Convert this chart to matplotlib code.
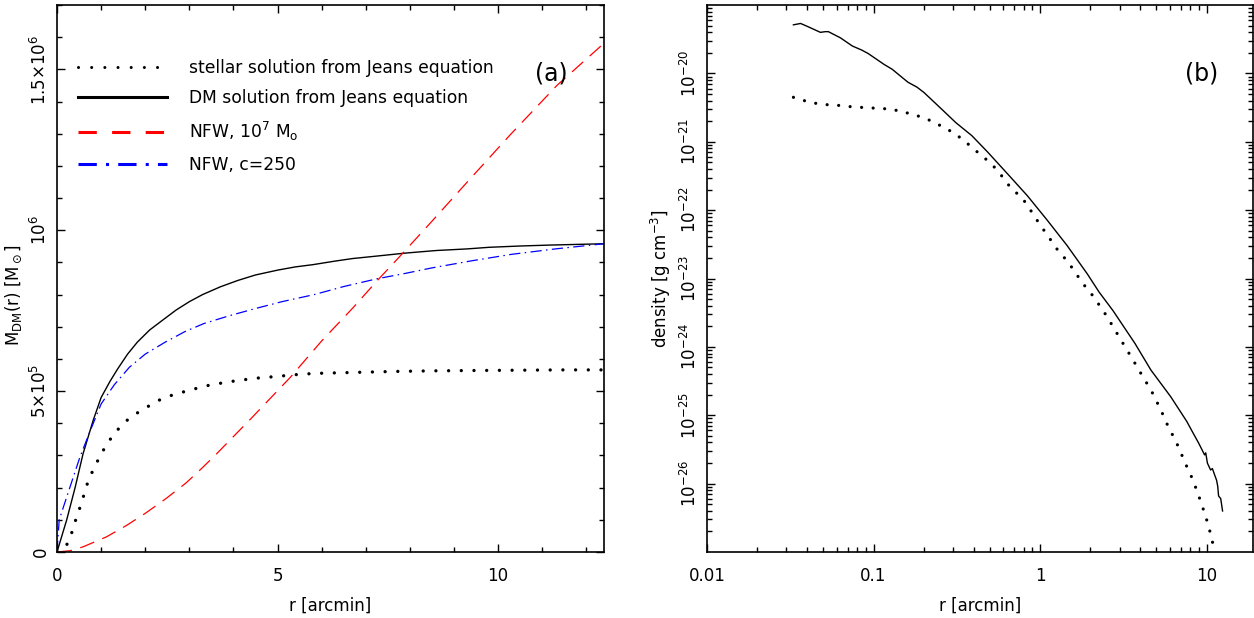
import numpy as np
import matplotlib
matplotlib.use("Agg")
import matplotlib.pyplot as plt
from matplotlib.lines import Line2D
from matplotlib.ticker import FixedLocator, MultipleLocator, LogLocator, NullFormatter

# ------------------------------------------------------------------------
# Data
# ------------------------------------------------------------------------

# panel (a): enclosed mass, r in arcmin, M in units of 1e6 Msun
dm_r = [0, 0.22, 0.41, 0.59, 0.82, 1.0, 1.2, 1.38, 1.6, 1.82, 2.1, 2.36, 2.7,
        3.0, 3.3, 3.7, 4.1, 4.5, 5.0, 5.4, 5.8, 6.3, 6.7, 7.2, 7.9, 8.6, 9.3,
        9.8, 10.5, 11.2, 11.8, 12.4]
dm_m = [0, 0.10, 0.20, 0.305, 0.409, 0.48, 0.53, 0.57, 0.615, 0.652, 0.69,
        0.717, 0.752, 0.778, 0.80, 0.824, 0.844, 0.861, 0.876, 0.886, 0.893,
        0.904, 0.912, 0.919, 0.929, 0.937, 0.942, 0.947, 0.951, 0.954, 0.956,
        0.958]

star_r = [0, 0.22, 0.33, 0.41, 0.5, 0.58, 0.65, 0.74, 0.86, 0.97, 1.1, 1.25,
          1.42, 1.61, 1.83, 2.06, 2.28, 2.6, 3.03, 3.5, 4.05, 4.5, 4.93, 5.4,
          5.83, 6.7, 7.6, 8.5, 9.4, 10.5, 11.5, 12.4]
star_m = [0, 0.022, 0.058, 0.094, 0.13, 0.163, 0.198, 0.232, 0.266, 0.297,
          0.328, 0.359, 0.387, 0.412, 0.433, 0.452, 0.47, 0.487, 0.504, 0.52,
          0.532, 0.54, 0.545, 0.551, 0.555, 0.558, 0.561, 0.563, 0.564, 0.565,
          0.566, 0.566]

nfw7_r = [0, 0.3, 0.59, 1.12, 1.57, 2.02, 2.47, 2.92, 3.22, 3.56, 4.4, 5.29,
          6.0, 6.71, 7.25, 7.78, 8.5, 9.38, 10.27, 11.34, 12.35]
nfw7_m = [0, 0.004, 0.016, 0.047, 0.082, 0.122, 0.166, 0.214, 0.252, 0.297,
          0.415, 0.543, 0.656, 0.759, 0.842, 0.92, 1.028, 1.162, 1.296, 1.451,
          1.575]

nfwc_r = [0, 0.05, 0.29, 0.52, 0.74, 1.0, 1.3, 1.64, 2.0, 2.45, 2.9, 3.33,
          3.9, 4.48, 5.1, 5.83, 6.5, 7.25, 7.9, 8.5, 9.4, 10.3, 11.3, 12.4]
nfwc_m = [0, 0.10, 0.20, 0.295, 0.372, 0.46, 0.52, 0.574, 0.615, 0.652,
          0.685, 0.71, 0.734, 0.756, 0.778, 0.80, 0.825, 0.849, 0.866, 0.883,
          0.905, 0.925, 0.942, 0.958]

# panel (b): density profiles, log10 r [arcmin] and log10 rho [g cm^-3]
dm_logr = [-1.481, -1.438, -1.40, -1.319, -1.29, -1.271, -1.199, -1.127,
           -1.07, -1.032, -0.936, -0.888, -0.793, -0.74, -0.697, -0.601,
           -0.506, -0.410, -0.315, -0.195, -0.076, 0.044, 0.163, 0.283,
           0.355, 0.438, 0.570, 0.666, 0.785, 0.857, 0.881, 0.91, 0.953,
           0.988, 0.995, 1.005, 1.024, 1.035, 1.048, 1.06, 1.067, 1.072,
           1.085, 1.096]
dm_logrho = [-19.29, -19.27, -19.31, -19.40, -19.39, -19.39, -19.48, -19.60,
             -19.66, -19.71, -19.87, -19.94, -20.13, -20.20, -20.28, -20.50,
             -20.72, -20.91, -21.15, -21.47, -21.79, -22.15, -22.52, -22.93,
             -23.20, -23.47, -23.95, -24.34, -24.73, -25.00, -25.09, -25.22,
             -25.41, -25.58, -25.55, -25.70, -25.80, -25.78, -25.87, -25.95,
             -26.04, -26.18, -26.22, -26.40]

star_logr = [-1.481, -1.414, -1.343, -1.271, -1.199, -1.127, -1.056, -0.984,
             -0.912, -0.841, -0.781, -0.709, -0.649, -0.578, -0.518, -0.458,
             -0.410, -0.362, -0.303, -0.255, -0.171, -0.111, -0.076, -0.004,
             0.068, 0.116, 0.163, 0.211, 0.259, 0.307, 0.379, 0.415, 0.486,
             0.558, 0.618, 0.666, 0.725, 0.761, 0.821, 0.881, 0.917, 0.953,
             0.988, 1.012, 1.036, 1.045]
star_logrho = [-20.35, -20.40, -20.44, -20.46, -20.47, -20.49, -20.50, -20.51,
               -20.52, -20.55, -20.59, -20.64, -20.70, -20.79, -20.87, -20.98,
               -21.08, -21.18, -21.30, -21.42, -21.69, -21.81, -21.93, -22.20,
               -22.45, -22.62, -22.74, -22.91, -23.08, -23.22, -23.47, -23.61,
               -23.90, -24.19, -24.44, -24.63, -24.92, -25.12, -25.41, -25.75,
               -25.94, -26.18, -26.43, -26.62, -26.86, -27.0]

legend_labels = ["stellar solution from Jeans equation",
                 "DM solution from Jeans equation",
                 r"NFW, $10^7$ M$_\mathrm{o}$",
                 "NFW, c=250"]

mass_ticks = [0, 0.5, 1.0, 1.5]
mass_ticklabels = ["0", r"$5{\times}10^5$", r"$10^6$", r"$1.5{\times}10^6$"]
r_ticks = [0.01, 0.1, 1, 10]
r_ticklabels = ["0.01", "0.1", "1", "10"]
rho_exps = [-26, -25, -24, -23, -22, -21, -20]

# ------------------------------------------------------------------------
# Plot
# ------------------------------------------------------------------------

plt.rcParams["font.family"] = ["DejaVu Sans"]
plt.rcParams["mathtext.fontset"] = "dejavusans"
plt.rcParams["font.size"] = 12

W, H = 1254, 618
fig = plt.figure(figsize=(W / 100, H / 100), dpi=100, facecolor="w")

dotted = (0, (0.01, 3.8))
dashed = (0, (12, 7))
dashdot = (0, (9, 3.5, 1.2, 3.5))


def style_axes(ax):
  for s in ax.spines.values():
    s.set_linewidth(1.2)
  ax.tick_params(which="both", direction="in", top=True, right=True,
                 width=1.0, labelsize=12)
  ax.tick_params(which="major", length=6)
  ax.tick_params(which="minor", length=3.5)
  ax.tick_params(axis="x", pad=11)
  ax.tick_params(axis="y", pad=5)
  for lab in ax.get_yticklabels():
    lab.set_rotation(90)
    lab.set_va("center")


# ---- panel (a)
ax = fig.add_axes([57 / W, 66 / H, 547 / W, 547 / H])
ax.plot(star_r, star_m, color="k", lw=2.4, linestyle=dotted,
        dash_capstyle="round")
ax.plot(dm_r, dm_m, color="k", lw=1.0)
ax.plot(nfw7_r, nfw7_m, color="red", lw=0.9, linestyle=dashed)
ax.plot(nfwc_r, nfwc_m, color="blue", lw=0.9, linestyle=dashdot)

ax.set_xlim(0, 12.4)
ax.set_ylim(0, 1.7)
ax.xaxis.set_major_locator(FixedLocator([0, 5, 10]))
ax.xaxis.set_minor_locator(MultipleLocator(1))
ax.yaxis.set_major_locator(FixedLocator(mass_ticks))
ax.set_yticklabels(mass_ticklabels)
ax.yaxis.set_minor_locator(MultipleLocator(0.1))
style_axes(ax)
ax.set_xlabel("r [arcmin]", fontsize=12)
ax.xaxis.set_label_coords(0.5, -0.082)
ax.set_ylabel(r"M$_\mathrm{DM}$(r) [M$_\odot$]", fontsize=12)
ax.yaxis.set_label_coords(-0.06, 0.47)
ax.text(0.903, 0.874, "(a)", transform=ax.transAxes, fontsize=17,
        ha="center", va="center")

handles = [
  Line2D([], [], color="k", lw=2.2, linestyle=(0, (0.01, 4.3)),
         dash_capstyle="round"),
  Line2D([], [], color="k", lw=2.2),
  Line2D([], [], color="red", lw=2.2, linestyle=(0, (6, 5))),
  Line2D([], [], color="blue", lw=2.2, linestyle=(0, (6, 3, 1, 3))),
]
ax.legend(handles, legend_labels, loc="upper left",
          bbox_to_anchor=(0.038, 0.902), frameon=False, fontsize=12.3,
          handlelength=5.2, handletextpad=1.3, labelspacing=0.75,
          borderpad=0, borderaxespad=0)

# ---- panel (b)
bx = fig.add_axes([707 / W, 66 / H, 546 / W, 547 / H])
bx.plot(np.power(10.0, star_logr), np.power(10.0, star_logrho), color="k",
        lw=2.3, linestyle=(0, (0.01, 3.6)), dash_capstyle="round")
bx.plot(np.power(10.0, dm_logr), np.power(10.0, dm_logrho), color="k", lw=1.0)
bx.set_xscale("log")
bx.set_yscale("log")
bx.set_xlim(0.01, 19)
bx.set_ylim(1e-27, 1e-19)
bx.xaxis.set_major_locator(FixedLocator(r_ticks))
bx.set_xticklabels(r_ticklabels)
bx.xaxis.set_minor_locator(LogLocator(base=10, subs=np.arange(2, 10)))
bx.xaxis.set_minor_formatter(NullFormatter())
bx.yaxis.set_major_locator(FixedLocator([10.0 ** e for e in rho_exps]))
bx.set_yticklabels([r"$10^{%d}$" % e for e in rho_exps])
bx.yaxis.set_minor_locator(LogLocator(base=10, subs=np.arange(2, 10),
                                      numticks=20))
bx.yaxis.set_minor_formatter(NullFormatter())
style_axes(bx)
bx.set_xlabel("r [arcmin]", fontsize=12)
bx.xaxis.set_label_coords(0.5, -0.082)
bx.set_ylabel(r"density [g cm$^{-3}$]", fontsize=12)
bx.yaxis.set_label_coords(-0.062, 0.5)
bx.text(0.905, 0.874, "(b)", transform=bx.transAxes, fontsize=17,
        ha="center", va="center")

fig.savefig("out.png", dpi=100)
